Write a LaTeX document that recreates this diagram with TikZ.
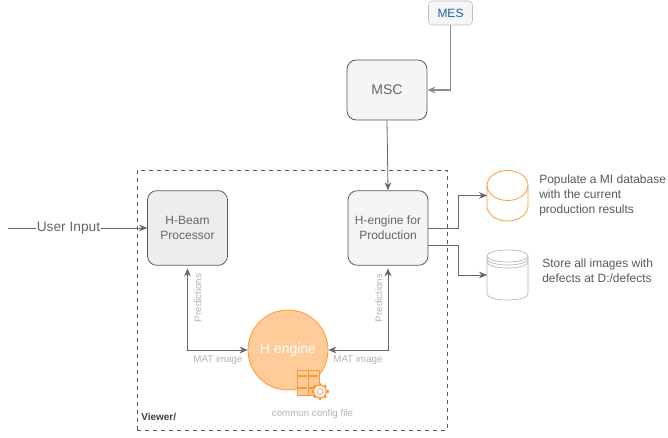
\documentclass[tikz,border=0pt]{standalone}
\usepackage{fontspec}
\setmainfont{Liberation Sans}
\usepackage{tikz}
\usetikzlibrary{arrows.meta,positioning}
\definecolor{txtgray}{HTML}{666666}
\definecolor{lblgray}{HTML}{B3B3B3}
\definecolor{engorange}{HTML}{FF9933}
\definecolor{engfill}{HTML}{FFCC99}
\definecolor{mesblue}{HTML}{1F5FA8}

\begin{document}
\begin{tikzpicture}[x=0.75pt,y=-0.75pt,>={Stealth[length=6pt,width=5pt]},font=\fontsize{9}{11}\selectfont,text=txtgray,
  conn/.style={draw=txtgray,->,line width=0.6pt},
  main box/.style={rectangle,rounded corners=7pt,draw=black!65,fill=black!4,line width=0.6pt,
    minimum width=60pt,minimum height=56pt,align=center,inner sep=1pt},
  small label/.style={font=\fontsize{7.3}{9}\selectfont,text=lblgray,inner sep=1pt},
  side label/.style={align=left,inner sep=0pt,font=\fontsize{9}{11.25}\selectfont,text=black!65},
  db/.style={rectangle,minimum width=30.75pt,minimum height=37.5pt,inner sep=0pt,outer sep=0pt}]

  \useasboundingbox (0,0) rectangle (668,438);

  % frame
  \node[draw=black!65,dashed,line width=0.5pt,minimum width=232.5pt,minimum height=195pt,inner sep=0pt] (viewer) at (292,300) {};
  \node[font=\fontsize{7.5}{9}\selectfont\bfseries,text=black!75,inner sep=0pt,anchor=west] (viewerlbl) at (141,417) {Viewer/};

  % boxes
  \node[main box,minimum height=45pt,font=\fontsize{10.5}{12}\selectfont] (msc) at (387,90) {MSC};
  \node[main box] (prod) at (388,228) {H-engine for\\Production};
  \node[main box,fill=black!7] (beam) at (187.5,228) {H-Beam\\Processor};
  \node[rectangle,rounded corners=3pt,draw=black!25,fill=black!4,minimum width=33pt,minimum height=18pt,
    inner sep=0pt,text=mesblue,font=\fontsize{9}{10}\selectfont] (mes) at (450.5,13) {MES};
  \node[circle,draw=engorange,fill=engfill,line width=0.6pt,minimum size=60pt,inner sep=0pt,
    text=white,font=\fontsize{10.5}{12}\selectfont] (engine) at (288,350) {\raisebox{-1pt}{H engine}};

  % free ends
  \coordinate (start) at (8,228);
  \coordinate (bendA) at (458,195.5);
  \coordinate (bendB) at (458,275);
  \coordinate (outA) at (prod.east);
  \coordinate (outB) at (prod.east |- 0,245);

  % databases
  \node[db] (dbA) at (507.5,195.5) {};
  \node[db] (dbB) at (507.5,275) {};
  \draw[engorange,line width=0.6pt] (507.5,185.5) ellipse[x radius=20.5,y radius=15];
  \draw[engorange,line width=0.6pt] (487,185.5) -- (487,206) arc[start angle=180,end angle=0,x radius=20.5,y radius=15] -- (528,185.5);
  \draw[black!30,line width=0.5pt] (507.5,256) ellipse[x radius=20.5,y radius=6];
  \draw[black!30,line width=0.5pt] (487,256) -- (487,294) arc[start angle=180,end angle=0,x radius=20.5,y radius=6] -- (528,256);
  \draw[black!30,line width=0.5pt] (487,259) arc[start angle=180,end angle=0,x radius=20.5,y radius=6];
  \draw[black!30,line width=0.5pt] (487,262) arc[start angle=180,end angle=0,x radius=20.5,y radius=6];

  % icon
  \draw[engorange,fill=engfill,line width=0.6pt] (297,370) rectangle (308,395);
  \draw[engorange,fill=engfill,line width=0.6pt] (308,370) rectangle (319,395);
  \foreach \xa in {297,308} {
    \draw[engorange,line width=0.9pt] (\xa+1,376) -- (\xa+10,376);
    \draw[engorange,line width=0.9pt] (\xa+1,388) -- (\xa+10,388);
  }
  \foreach \ang in {0,45,...,315}
    \draw[engorange,line width=1.8pt] (320,391.5) ++(\ang:6) -- ++(\ang:2.5);
  \node[circle,draw=engorange,fill=white,line width=0.8pt,minimum size=9.5pt,inner sep=0pt] (gearout) at (320,391.5) {};
  \node[circle,draw=engorange,fill=white,line width=0.5pt,minimum size=4.5pt,inner sep=0pt] (gearin) at (320,391.5) {};

  % connectors
  \draw[conn,draw=black!45,line width=0.8pt] (mes.south) |- (msc.east);
  \draw[conn] (msc.south) -- (prod.north);
  \draw[conn] (start) -- node[pos=0.435,fill=white,inner sep=0.5pt,font=\fontsize{10.3}{12}\selectfont] (input) {User Input} (beam.west);
  \draw[conn] (outA) -| (bendA) -- (dbA.west);
  \draw[conn] (outB) -| (bendB) -- (dbB.west);
  \draw[conn,<->] ([yshift=-2pt]beam.south) |- (engine.west);
  \draw[conn,<->] ([yshift=-2pt]prod.south) |- (engine.east);

  % labels
  \node[small label,rotate=90] (predA) at (198,298) {Predictions};
  \node[small label,rotate=90] (predB) at (379,298) {Predictions};
  \node[small label] (matA) at (218,360) {MAT image};
  \node[small label] (matB) at (358,360) {MAT image};
  \node[small label] (config) at (312.5,414) {common config file};
  \node[side label,anchor=west] (txtA) at (539,195) {Populate a MI database\\with the current\\production results};
  \node[side label,anchor=west] (txtB) at (542,271) {Store all images with\\defects at D:/defects};
\end{tikzpicture}
\end{document}
